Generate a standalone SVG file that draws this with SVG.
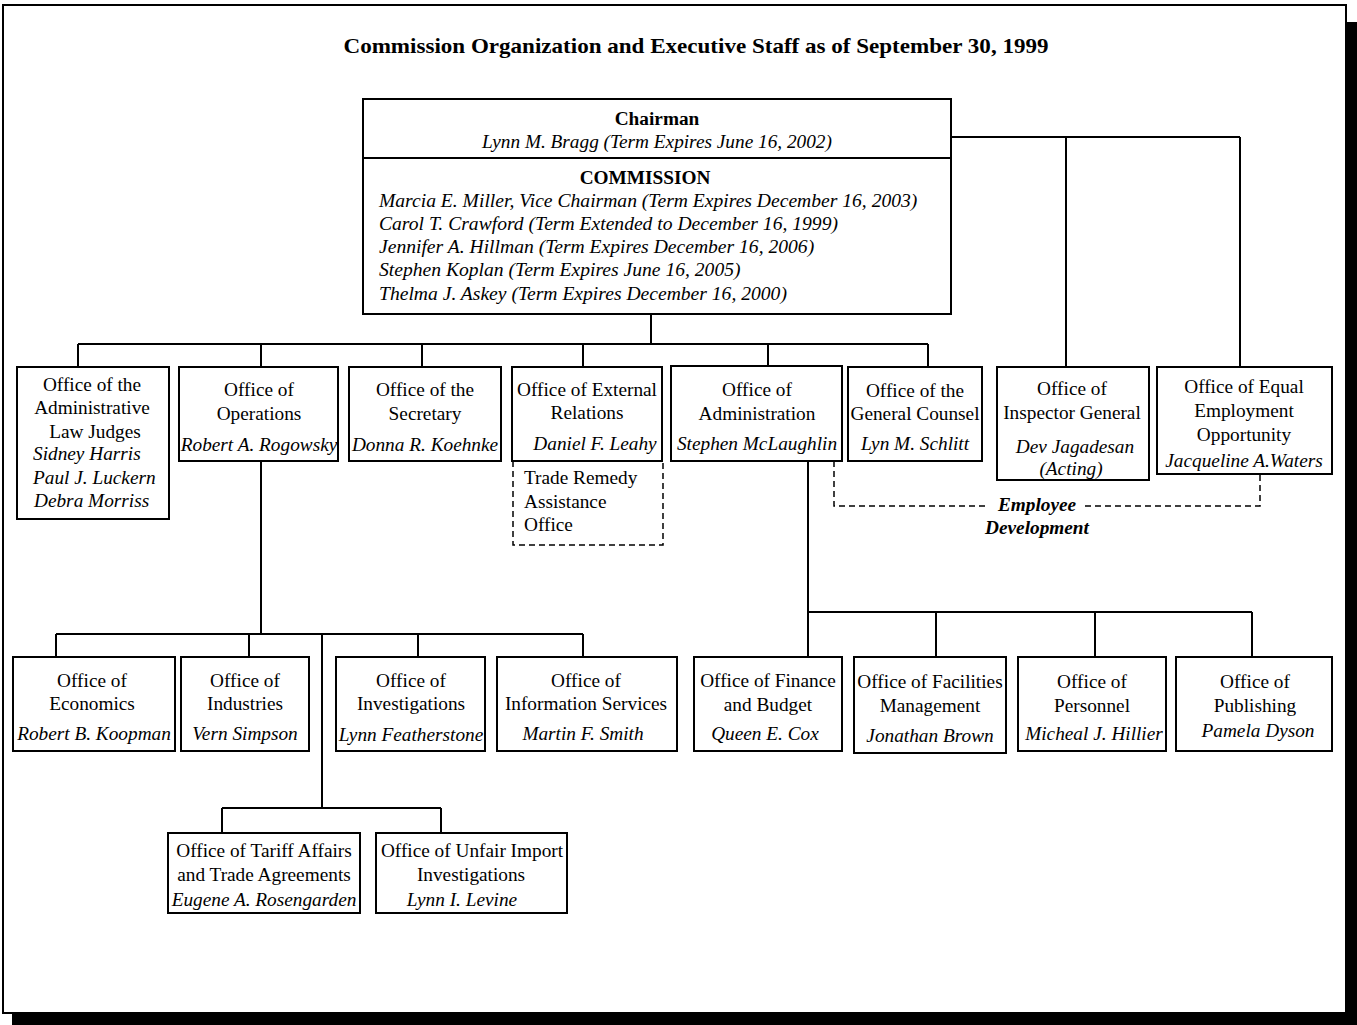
<svg xmlns="http://www.w3.org/2000/svg" width="1357" height="1025" viewBox="0 0 1357 1025">
<style>
text{font-family:"Liberation Serif","Times New Roman",serif;font-size:19.3px;fill:#000}
.c{text-anchor:middle}
.i{font-style:italic}
.b{font-weight:bold}
.cm{font-size:19.6px}
.box{fill:#fff;stroke:#000;stroke-width:2}
.conn{fill:none;stroke:#000;stroke-width:2}
.dash{fill:none;stroke:#000;stroke-width:1.5;stroke-dasharray:6 4}
</style>
<rect width="1357" height="1025" fill="#fff"/>
<g id="frame">
<rect x="1346" y="22" width="11" height="1003" fill="#000"/>
<rect x="12" y="1013" width="1345" height="12" fill="#000"/>
<rect x="3" y="5" width="1343" height="1008" fill="none" stroke="#000" stroke-width="2"/>
</g>
<text id="title" x="696" y="53" class="c b" style="font-size:22px" textLength="705" lengthAdjust="spacingAndGlyphs">Commission Organization and Executive Staff as of September 30, 1999</text>
<g id="connectors">
<path class="conn" d="M651,314V344M78,344H928M78,344V367M261,344V367M422,344V367M583,344V367M768,344V367M928,344V367"/>
<path class="conn" d="M951,137H1240M1066,137V367M1240,137V367"/>
<path class="conn" d="M261,461V634M56,634H583M56,634V657M249,634V657M418,634V657M583,634V657M322,634V808M222,808H441M222,808V833M441,808V833"/>
<path class="conn" d="M808,461V612H1252M808,612V657M936,612V657M1095,612V657M1252,612V657"/>
<path class="dash" d="M834,461V506H985M1085,506H1260V474"/>
</g>
<g id="chairman">
<rect class="box" x="363" y="99" width="588" height="215"/>
<line x1="363" y1="158" x2="951" y2="158" stroke="#000" stroke-width="2"/>
<text x="657" y="125" class="c b">Chairman</text>
<text x="657" y="148" class="c i">Lynn M. Bragg (Term Expires June 16, 2002)</text>
<text x="645" y="184" class="c b">COMMISSION</text>
<text x="379" y="207" class="i cm">Marcia E. Miller, Vice Chairman (Term Expires December 16, 2003)</text>
<text x="379" y="230" class="i cm">Carol T. Crawford (Term Extended to December 16, 1999)</text>
<text x="379" y="253" class="i cm">Jennifer A. Hillman (Term Expires December 16, 2006)</text>
<text x="379" y="276" class="i cm">Stephen Koplan (Term Expires June 16, 2005)</text>
<text x="379" y="300" class="i cm">Thelma J. Askey (Term Expires December 16, 2000)</text>
</g>
<g id="alj">
<rect class="box" x="17" y="367" width="152" height="152"/>
<text x="92" y="391" class="c">Office of the</text>
<text x="92" y="414" class="c">Administrative</text>
<text x="95" y="438" class="c">Law Judges</text>
<text x="33" y="460" class="i">Sidney Harris</text>
<text x="33" y="484" class="i">Paul J. Luckern</text>
<text x="34" y="507" class="i">Debra Morriss</text>
</g>
<g id="operations">
<rect class="box" x="179" y="367" width="159" height="94"/>
<text x="259" y="396" class="c">Office of</text>
<text x="259" y="420" class="c">Operations</text>
<text x="259" y="451" class="c i">Robert A. Rogowsky</text>
</g>
<g id="secretary">
<rect class="box" x="349" y="367" width="152" height="94"/>
<text x="425" y="396" class="c">Office of the</text>
<text x="425" y="420" class="c">Secretary</text>
<text x="425" y="451" class="c i">Donna R. Koehnke</text>
</g>
<g id="external">
<rect class="box" x="512" y="367" width="150" height="94"/>
<text x="587" y="396" class="c">Office of External</text>
<text x="587" y="419" class="c">Relations</text>
<text x="595" y="450" class="c i">Daniel F. Leahy</text>
</g>
<g id="trade-remedy">
<path class="dash" d="M513,461V545H663V461"/>
<text x="524" y="484">Trade Remedy</text>
<text x="524" y="508">Assistance</text>
<text x="524" y="531">Office</text>
</g>
<g id="administration">
<rect class="box" x="671" y="366" width="171" height="95"/>
<text x="757" y="396" class="c">Office of</text>
<text x="757" y="420" class="c">Administration</text>
<text x="757" y="450" class="c i">Stephen McLaughlin</text>
</g>
<g id="counsel">
<rect class="box" x="848" y="367" width="134" height="94"/>
<text x="915" y="397" class="c">Office of the</text>
<text x="915" y="420" class="c">General Counsel</text>
<text x="915" y="450" class="c i">Lyn M. Schlitt</text>
</g>
<g id="inspector">
<rect class="box" x="997" y="367" width="152" height="113"/>
<text x="1072" y="395" class="c">Office of</text>
<text x="1072" y="419" class="c">Inspector General</text>
<text x="1075" y="453" class="c i">Dev Jagadesan</text>
<text x="1071" y="475" class="c i">(Acting)</text>
</g>
<g id="eeo">
<rect class="box" x="1157" y="367" width="175" height="107"/>
<text x="1244" y="393" class="c">Office of Equal</text>
<text x="1244" y="417" class="c">Employment</text>
<text x="1244" y="441" class="c">Opportunity</text>
<text x="1244" y="467" class="c i">Jacqueline A.Waters</text>
</g>
<g id="employee-development">
<text x="1037" y="511" class="c b i">Employee</text>
<text x="1037" y="534" class="c b i">Development</text>
</g>
<g id="economics">
<rect class="box" x="13" y="657" width="162" height="94"/>
<text x="92" y="687" class="c">Office of</text>
<text x="92" y="710" class="c">Economics</text>
<text x="94" y="740" class="c i">Robert B. Koopman</text>
</g>
<g id="industries">
<rect class="box" x="181" y="657" width="128" height="94"/>
<text x="245" y="687" class="c">Office of</text>
<text x="245" y="710" class="c">Industries</text>
<text x="245" y="740" class="c i">Vern Simpson</text>
</g>
<g id="investigations">
<rect class="box" x="336" y="657" width="149" height="94"/>
<text x="411" y="687" class="c">Office of</text>
<text x="411" y="710" class="c">Investigations</text>
<text x="411" y="741" class="c i">Lynn Featherstone</text>
</g>
<g id="information">
<rect class="box" x="497" y="657" width="180" height="94"/>
<text x="586" y="687" class="c">Office of</text>
<text x="586" y="710" class="c">Information Services</text>
<text x="583" y="740" class="c i">Martin F. Smith</text>
</g>
<g id="tariff">
<rect class="box" x="168" y="833" width="192" height="80"/>
<text x="264" y="857" class="c">Office of Tariff Affairs</text>
<text x="264" y="881" class="c">and Trade Agreements</text>
<text x="264" y="906" class="c i">Eugene A. Rosengarden</text>
</g>
<g id="unfair">
<rect class="box" x="376" y="833" width="191" height="80"/>
<text x="472" y="857" class="c">Office of Unfair Import</text>
<text x="471" y="881" class="c">Investigations</text>
<text x="462" y="906" class="c i">Lynn I. Levine</text>
</g>
<g id="finance">
<rect class="box" x="694" y="657" width="148" height="94"/>
<text x="768" y="687" class="c">Office of Finance</text>
<text x="768" y="711" class="c">and Budget</text>
<text x="765" y="740" class="c i">Queen E. Cox</text>
</g>
<g id="facilities">
<rect class="box" x="854" y="657" width="152" height="96"/>
<text x="930" y="688" class="c">Office of Facilities</text>
<text x="930" y="712" class="c">Management</text>
<text x="930" y="742" class="c i">Jonathan Brown</text>
</g>
<g id="personnel">
<rect class="box" x="1018" y="657" width="148" height="94"/>
<text x="1092" y="688" class="c">Office of</text>
<text x="1092" y="712" class="c">Personnel</text>
<text x="1094" y="740" class="c i">Micheal J. Hillier</text>
</g>
<g id="publishing">
<rect class="box" x="1176" y="657" width="156" height="94"/>
<text x="1255" y="688" class="c">Office of</text>
<text x="1255" y="712" class="c">Publishing</text>
<text x="1258" y="737" class="c i">Pamela Dyson</text>
</g>
</svg>
